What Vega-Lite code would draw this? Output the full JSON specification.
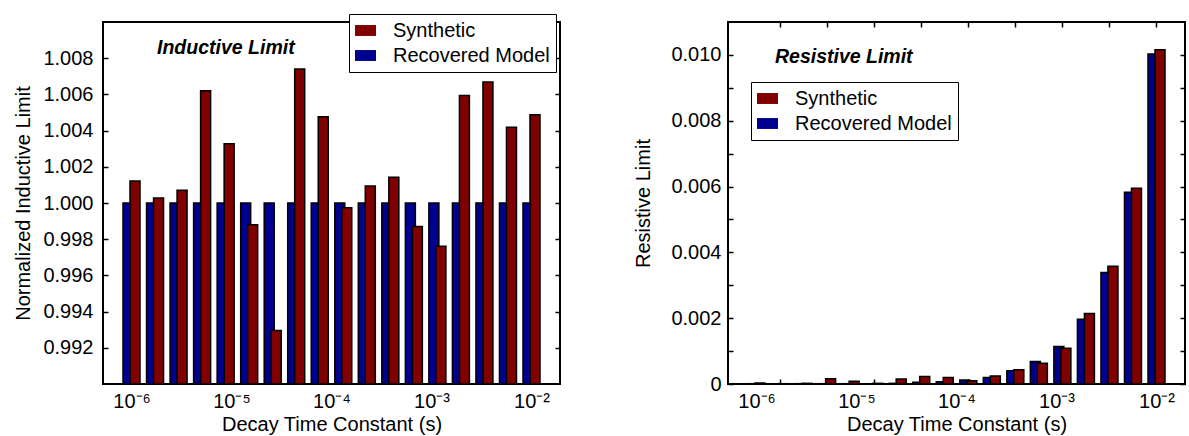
{
  "$schema": "https://vega.github.io/schema/vega-lite/v6.json",
  "padding": {"left": 12, "top": 12, "right": 0, "bottom": 0},
  "background": "white",
  "config": {
    "font": "Liberation Sans",
    "view": {"stroke": "black", "strokeWidth": 2},
    "axis": {"labelFontSize": 20, "titleFontSize": 20, "titleFontWeight": "normal", "labelColor": "black", "titleColor": "black", "tickColor": "black", "tickWidth": 1.5, "domain": false, "grid": false, "labelFlush": false, "labelOverlap": false, "labelBound": false},
    "legend": {"labelFontSize": 20, "labelColor": "black", "labelFont": "Liberation Sans"}
  },
  "datasets": {
    "ind": [
      {"tau": 1e-6, "series": "Recovered Model", "value": 1.0}, {"tau": 1e-6, "series": "Synthetic", "value": 1.00122},
      {"tau": 1.7192e-6, "series": "Recovered Model", "value": 1.0}, {"tau": 1.7192e-6, "series": "Synthetic", "value": 1.00028},
      {"tau": 2.9557e-6, "series": "Recovered Model", "value": 1.0}, {"tau": 2.9557e-6, "series": "Synthetic", "value": 1.0007},
      {"tau": 5.0816e-6, "series": "Recovered Model", "value": 1.0}, {"tau": 5.0816e-6, "series": "Synthetic", "value": 1.0062},
      {"tau": 8.7364e-6, "series": "Recovered Model", "value": 1.0}, {"tau": 8.7364e-6, "series": "Synthetic", "value": 1.00327},
      {"tau": 1.502e-5, "series": "Recovered Model", "value": 1.0}, {"tau": 1.502e-5, "series": "Synthetic", "value": 0.9988},
      {"tau": 2.5823e-5, "series": "Recovered Model", "value": 1.0}, {"tau": 2.5823e-5, "series": "Synthetic", "value": 0.99296},
      {"tau": 4.4367e-5, "series": "Recovered Model", "value": 1.0}, {"tau": 4.4367e-5, "series": "Synthetic", "value": 1.0074},
      {"tau": 7.627e-5, "series": "Recovered Model", "value": 1.0}, {"tau": 7.627e-5, "series": "Synthetic", "value": 1.00476},
      {"tau": 1.3115e-4, "series": "Recovered Model", "value": 1.0}, {"tau": 1.3115e-4, "series": "Synthetic", "value": 0.99974},
      {"tau": 2.2539e-4, "series": "Recovered Model", "value": 1.0}, {"tau": 2.2539e-4, "series": "Synthetic", "value": 1.00094},
      {"tau": 3.8747e-4, "series": "Recovered Model", "value": 1.0}, {"tau": 3.8747e-4, "series": "Synthetic", "value": 1.00142},
      {"tau": 6.6609e-4, "series": "Recovered Model", "value": 1.0}, {"tau": 6.6609e-4, "series": "Synthetic", "value": 0.9987},
      {"tau": 1.145e-3, "series": "Recovered Model", "value": 1.0}, {"tau": 1.145e-3, "series": "Synthetic", "value": 0.99761},
      {"tau": 1.9684e-3, "series": "Recovered Model", "value": 1.0}, {"tau": 1.9684e-3, "series": "Synthetic", "value": 1.00594},
      {"tau": 3.3838e-3, "series": "Recovered Model", "value": 1.0}, {"tau": 3.3838e-3, "series": "Synthetic", "value": 1.00669},
      {"tau": 5.8171e-3, "series": "Recovered Model", "value": 1.0}, {"tau": 5.8171e-3, "series": "Synthetic", "value": 1.00419},
      {"tau": 1e-2, "series": "Recovered Model", "value": 1.0}, {"tau": 1e-2, "series": "Synthetic", "value": 1.00487}
    ],
    "res": [
      {"tau": 1e-6, "series": "Recovered Model", "value": 0.00001}, {"tau": 1e-6, "series": "Synthetic", "value": 0.00003},
      {"tau": 1.7192e-6, "series": "Recovered Model", "value": 0.0}, {"tau": 1.7192e-6, "series": "Synthetic", "value": 0.00001},
      {"tau": 2.9557e-6, "series": "Recovered Model", "value": 0.00001}, {"tau": 2.9557e-6, "series": "Synthetic", "value": 0.00002},
      {"tau": 5.0816e-6, "series": "Recovered Model", "value": 0.00001}, {"tau": 5.0816e-6, "series": "Synthetic", "value": 0.00016},
      {"tau": 8.7364e-6, "series": "Recovered Model", "value": 0.00001}, {"tau": 8.7364e-6, "series": "Synthetic", "value": 0.00008},
      {"tau": 1.502e-5, "series": "Recovered Model", "value": 0.0}, {"tau": 1.502e-5, "series": "Synthetic", "value": 0.00002},
      {"tau": 2.5823e-5, "series": "Recovered Model", "value": 0.00002}, {"tau": 2.5823e-5, "series": "Synthetic", "value": 0.00015},
      {"tau": 4.4367e-5, "series": "Recovered Model", "value": 0.00005}, {"tau": 4.4367e-5, "series": "Synthetic", "value": 0.00023},
      {"tau": 7.627e-5, "series": "Recovered Model", "value": 0.00007}, {"tau": 7.627e-5, "series": "Synthetic", "value": 0.0002},
      {"tau": 1.3115e-4, "series": "Recovered Model", "value": 0.00012}, {"tau": 1.3115e-4, "series": "Synthetic", "value": 0.0001},
      {"tau": 2.2539e-4, "series": "Recovered Model", "value": 0.0002}, {"tau": 2.2539e-4, "series": "Synthetic", "value": 0.00024},
      {"tau": 3.8747e-4, "series": "Recovered Model", "value": 0.0004}, {"tau": 3.8747e-4, "series": "Synthetic", "value": 0.00043},
      {"tau": 6.6609e-4, "series": "Recovered Model", "value": 0.00068}, {"tau": 6.6609e-4, "series": "Synthetic", "value": 0.00063},
      {"tau": 1.145e-3, "series": "Recovered Model", "value": 0.00114}, {"tau": 1.145e-3, "series": "Synthetic", "value": 0.00109},
      {"tau": 1.9684e-3, "series": "Recovered Model", "value": 0.00197}, {"tau": 1.9684e-3, "series": "Synthetic", "value": 0.00214},
      {"tau": 3.3838e-3, "series": "Recovered Model", "value": 0.00339}, {"tau": 3.3838e-3, "series": "Synthetic", "value": 0.00358},
      {"tau": 5.8171e-3, "series": "Recovered Model", "value": 0.00583}, {"tau": 5.8171e-3, "series": "Synthetic", "value": 0.00595},
      {"tau": 1e-2, "series": "Recovered Model", "value": 0.01003}, {"tau": 1e-2, "series": "Synthetic", "value": 0.01016}
    ]
  },
  "resolve": {"scale": {"color": "independent"}, "legend": {"color": "independent"}},
  "spacing": 70,
  "hconcat": [
    {
      "width": 457,
      "height": 362,
      "data": {"name": "ind"},
      "resolve": {"axis": {"x": "independent", "y": "independent"}},
      "layer": [
        {
          "transform": [{"filter": "datum.series == 'Recovered Model'"}],
          "mark": {"type": "bar", "width": 10, "xOffset": -3.5, "stroke": "black", "strokeWidth": 1.5},
          "encoding": {
            "x": {"field": "tau", "type": "quantitative", "scale": {"type": "log", "domain": [5.82e-7, 0.01718], "nice": false},
                  "axis": {"values": [1e-6, 1e-5, 1e-4, 1e-3, 1e-2], "ticks": false, "labelPadding": 7, "title": "Decay Time Constant (s)", "titlePadding": 3,
                           "labelExpr": "datum.value < 5e-6 ? '10⁻⁶' : datum.value < 5e-5 ? '10⁻⁵' : datum.value < 5e-4 ? '10⁻⁴' : datum.value < 5e-3 ? '10⁻³' : '10⁻²'"}},
            "y": {"field": "value", "type": "quantitative", "scale": {"domain": [0.99, 1.01], "zero": false, "nice": false},
                  "axis": {"values": [0.992, 0.994, 0.996, 0.998, 1.0, 1.002, 1.004, 1.006, 1.008], "format": ".3f", "tickSize": -5, "labelPadding": 15, "title": "Normalized Inductive Limit", "titlePadding": 9}},
            "y2": {"datum": 0.99},
            "color": {"field": "series", "type": "nominal", "scale": {"domain": ["Synthetic", "Recovered Model"], "range": ["#800000", "#000090"]},
                      "legend": {"orient": "none", "legendX": 246, "legendY": -8, "title": null, "strokeColor": "black", "fillColor": "white", "padding": 6, "symbolType": "M-1,-0.52H1V0.52H-1Z", "symbolSize": 441, "symbolStrokeWidth": 0, "labelOffset": 17, "rowPadding": 4,
                                 "encode": {"legend": {"update": {"strokeWidth": {"value": 1.5}}}}}}
          }
        },
        {
          "transform": [{"filter": "datum.series == 'Synthetic'"}],
          "mark": {"type": "bar", "width": 10, "xOffset": 3.5, "stroke": "black", "strokeWidth": 1.5},
          "encoding": {
            "x": {"field": "tau", "type": "quantitative", "axis": null},
            "y": {"field": "value", "type": "quantitative",
                  "axis": {"orient": "right", "values": [0.992, 0.994, 0.996, 0.998, 1.0, 1.002, 1.004, 1.006, 1.008], "labels": false, "tickSize": -5, "title": null}},
            "y2": {"datum": 0.99},
            "color": {"field": "series", "type": "nominal"}
          }
        },
        {
          "data": {"values": [{"note": "Inductive Limit"}]},
          "mark": {"type": "text", "align": "left", "baseline": "middle", "fontSize": 19.5, "fontWeight": "bold", "fontStyle": "italic", "color": "black"},
          "encoding": {
            "x": {"datum": 1.8e-6, "type": "quantitative", "axis": null},
            "y": {"datum": 1.00856, "type": "quantitative", "axis": null},
            "text": {"field": "note"}
          }
        }
      ]
    },
    {
      "width": 457,
      "height": 362,
      "data": {"name": "res"},
      "resolve": {"axis": {"x": "independent", "y": "independent"}},
      "layer": [
        {
          "transform": [{"filter": "datum.series == 'Recovered Model'"}],
          "mark": {"type": "bar", "width": 10, "xOffset": -3.5, "stroke": "black", "strokeWidth": 1.5},
          "encoding": {
            "x": {"field": "tau", "type": "quantitative", "scale": {"type": "log", "domain": [5.82e-7, 0.01718], "nice": false},
                  "axis": {"values": [1e-6, 1e-5, 1e-4, 1e-3, 1e-2], "ticks": false, "labelPadding": 7, "title": "Decay Time Constant (s)", "titlePadding": 3,
                           "labelExpr": "datum.value < 5e-6 ? '10⁻⁶' : datum.value < 5e-5 ? '10⁻⁵' : datum.value < 5e-4 ? '10⁻⁴' : datum.value < 5e-3 ? '10⁻³' : '10⁻²'"}},
            "y": {"field": "value", "type": "quantitative", "scale": {"domain": [0, 0.011], "nice": false},
                  "axis": {"values": [0, 0.001, 0.002, 0.003, 0.004, 0.005, 0.006, 0.007, 0.008, 0.009, 0.01], "tickSize": -5, "labelPadding": 12, "title": "Resistive Limit", "titlePadding": 17,
                           "labelExpr": "datum.value == 0 ? '0' : (round(datum.value * 1000) % 2 == 0 ? format(datum.value, '.3f') : '')"}},
            "color": {"field": "series", "type": "nominal", "scale": {"domain": ["Synthetic", "Recovered Model"], "range": ["#800000", "#000090"]},
                      "legend": {"orient": "none", "legendX": 23, "legendY": 60, "title": null, "strokeColor": "black", "fillColor": "white", "padding": 6, "symbolType": "M-1,-0.52H1V0.52H-1Z", "symbolSize": 441, "symbolStrokeWidth": 0, "labelOffset": 17, "rowPadding": 4,
                                 "encode": {"legend": {"update": {"strokeWidth": {"value": 1.5}}}}}}
          }
        },
        {
          "transform": [{"filter": "datum.series == 'Synthetic'"}],
          "mark": {"type": "bar", "width": 10, "xOffset": 3.5, "stroke": "black", "strokeWidth": 1.5},
          "encoding": {
            "x": {"field": "tau", "type": "quantitative",
                  "axis": {"orient": "top", "values": [1.7192e-6, 5.0816e-6, 1.502e-5, 4.4367e-5, 1.3115e-4, 3.8747e-4, 1.145e-3, 3.3838e-3, 1e-2], "labels": false, "tickSize": -5, "title": null}},
            "y": {"field": "value", "type": "quantitative",
                  "axis": {"orient": "right", "values": [0, 0.001, 0.002, 0.003, 0.004, 0.005, 0.006, 0.007, 0.008, 0.009, 0.01], "labels": false, "tickSize": -5, "title": null}},
            "color": {"field": "series", "type": "nominal"}
          }
        },
        {
          "data": {"values": [{"note": "Resistive Limit"}]},
          "mark": {"type": "text", "align": "left", "baseline": "middle", "fontSize": 19.5, "fontWeight": "bold", "fontStyle": "italic", "color": "black"},
          "encoding": {
            "x": {"datum": 1.53e-6, "type": "quantitative",
                  "axis": {"orient": "bottom", "values": [1.7192e-6, 5.0816e-6, 1.502e-5, 4.4367e-5, 1.3115e-4, 3.8747e-4, 1.145e-3, 3.3838e-3, 1e-2], "labels": false, "tickSize": -5, "title": null}},
            "y": {"datum": 0.00993, "type": "quantitative", "axis": null},
            "text": {"field": "note"}
          }
        }
      ]
    }
  ]
}
